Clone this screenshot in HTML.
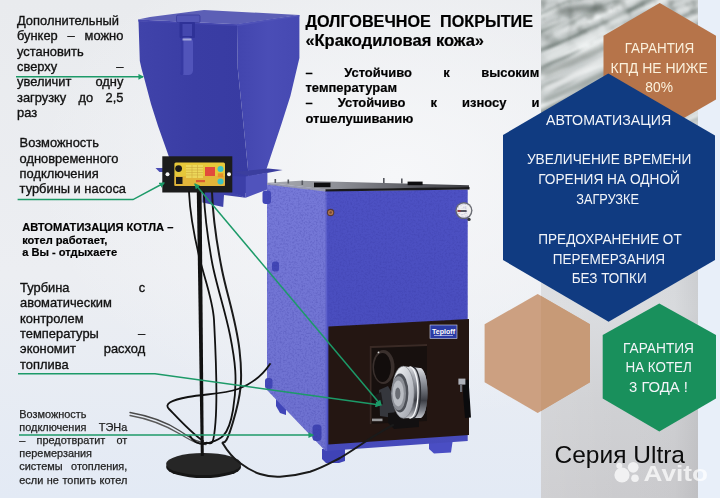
<!DOCTYPE html>
<html><head><meta charset="utf-8">
<style>
html,body{margin:0;padding:0;background:#e9ecf1;}
body{width:720px;height:498px;overflow:hidden;font-family:"Liberation Sans",sans-serif;}
svg{display:block;font-family:"Liberation Sans",sans-serif;}
</style></head><body>
<svg width="720" height="498" viewBox="0 0 720 498">
<defs>
<linearGradient id="bg" x1="0" y1="0" x2="0" y2="1">
<stop offset="0" stop-color="#e9ebee"/><stop offset="0.55" stop-color="#eceef2"/><stop offset="1" stop-color="#e3eaf5"/>
</linearGradient>
<radialGradient id="bgc" cx="0.55" cy="0.35" r="0.5">
<stop offset="0" stop-color="#f6f7f9" stop-opacity="1"/><stop offset="1" stop-color="#f6f7f9" stop-opacity="0"/>
</radialGradient>
<linearGradient id="bandh" x1="0" y1="0" x2="1" y2="0"><stop offset="0" stop-color="#fff" stop-opacity="0.1"/><stop offset="0.5" stop-color="#fff" stop-opacity="0"/><stop offset="0.85" stop-color="#000" stop-opacity="0.01"/><stop offset="1" stop-color="#000" stop-opacity="0.06"/></linearGradient>
<linearGradient id="band" x1="0" y1="0" x2="0" y2="1">
<stop offset="0" stop-color="#c0c4c6"/><stop offset="0.28" stop-color="#d2d4d8"/><stop offset="0.62" stop-color="#dadcdf"/><stop offset="0.8" stop-color="#d0d1d4"/><stop offset="1" stop-color="#cbcbce"/>
</linearGradient>
<filter id="noise" x="0" y="0" width="100%" height="100%" color-interpolation-filters="sRGB">
<feTurbulence type="fractalNoise" baseFrequency="0.014 0.13" numOctaves="3" seed="11" result="t"/>
<feColorMatrix in="t" type="matrix" values="0 0 0 0 0.36  0 0 0 0 0.41  0 0 0 0 0.39  2.1 0 0 0 -1.02" result="d"/>
<feColorMatrix in="t" type="matrix" values="0 0 0 0 0.97  0 0 0 0 0.98  0 0 0 0 0.98  0 2.4 0 0 -1.1" result="w"/>
<feMerge result="m"><feMergeNode in="d"/><feMergeNode in="w"/></feMerge><feGaussianBlur in="m" stdDeviation="1.0"/>
</filter>
<filter id="noise2" x="0" y="0" width="100%" height="100%" color-interpolation-filters="sRGB">
<feTurbulence type="fractalNoise" baseFrequency="0.09 0.09" numOctaves="2" seed="3" result="t"/>
<feColorMatrix in="t" type="matrix" values="0 0 0 0 0.30  0 0 0 0 0.34  0 0 0 0 0.32  2.4 0 0 0 -1.2" result="q"/><feGaussianBlur in="q" stdDeviation="0.8"/>
</filter>
<filter id="speck" x="0" y="0" width="100%" height="100%" color-interpolation-filters="sRGB">
<feTurbulence type="fractalNoise" baseFrequency="0.55" numOctaves="2" seed="5" result="t"/>
<feColorMatrix in="t" type="matrix" values="0 0 0 0 0.2  0 0 0 0 0.2  0 0 0 0 0.6  0 0 2.0 0 -0.85" result="c"/>
<feComposite in="c" in2="SourceGraphic" operator="in"/>
</filter>
<filter id="b1"><feGaussianBlur stdDeviation="1.2"/></filter>
<filter id="b2"><feGaussianBlur stdDeviation="2.5"/></filter>
<linearGradient id="ft" x1="0" y1="0" x2="0" y2="1"><stop offset="0" stop-color="#fff"/><stop offset="0.4" stop-color="#fff"/><stop offset="1" stop-color="#000"/></linearGradient><mask id="fadeTop"><rect x="541" y="0" width="157" height="60" fill="url(#ft)"/></mask>
<clipPath id="photoclip"><rect x="541" y="0" width="157" height="140"/></clipPath>
<marker id="ah" viewBox="0 0 10 10" refX="8" refY="5" markerWidth="3.8" markerHeight="3.8" orient="auto-start-reverse"><path d="M0,0 L10,5 L0,10 z" fill="#1c9a68"/></marker>
</defs>
<!-- BACKGROUND -->
<g id="background">
<rect width="720" height="498" fill="url(#bg)"/>
<rect width="720" height="498" fill="url(#bgc)"/>
<rect x="698" y="0" width="22" height="498" fill="#e8eff9"/>
<rect x="541" y="0" width="157" height="498" fill="url(#band)"/>
<rect x="541" y="0" width="157" height="498" fill="url(#bandh)"/>
</g>
<!-- PHOTO -->
<g id="photo" clip-path="url(#photoclip)">
<rect x="541" y="0" width="157" height="140" fill="#c9cece"/>
<g transform="rotate(-24 600 60)"><rect x="470" y="-90" width="320" height="320" filter="url(#noise)"/></g>
<rect x="541" y="0" width="157" height="60" filter="url(#noise2)" opacity="0.55" mask="url(#fadeTop)"/>
<g filter="url(#b2)" fill="none" stroke-linecap="round">
<path d="M545,75 C570,62 600,50 640,30" stroke="#6d7672" stroke-width="4" opacity="0.7"/>
<path d="M545,100 C575,88 600,78 625,60" stroke="#78817d" stroke-width="4" opacity="0.7"/>
<path d="M548,58 C575,45 595,35 625,15" stroke="#eef1f1" stroke-width="5" opacity="0.8"/>
<path d="M545,88 C570,78 595,66 615,52" stroke="#f2f4f4" stroke-width="4" opacity="0.8"/>
<path d="M560,12 C575,8 590,6 605,10" stroke="#565e5a" stroke-width="5" opacity="0.7"/>
</g>
</g>
<!-- HEXAGONS -->
<g id="hexes">
<polygon points="659.7,3 716,35.7 716,99.5 659.7,132 603.5,99.5 603.5,35.7" fill="#b6744a"/>
<polygon points="608.3,73.5 715,135.5 715,260 608.6,321.7 503,260 503,135" fill="#103b81"/>
<polygon points="537.7,294 590,324.3 590,382.3 537.7,413 484.6,382.3 484.6,324.3" fill="#cca081"/>
<polygon points="541,296 590,324.3 590,382.3 541,411" fill="#c79a77"/>
<polygon points="659.3,303.5 716,335 716,398.4 659.3,431.5 602.7,398.4 602.7,335" fill="#19905c"/>
</g>
<!-- HOPPER -->
<g id="hopper">
<defs>
<linearGradient id="hf" x1="0" y1="0" x2="1" y2="0"><stop offset="0" stop-color="#4043aa"/><stop offset="0.5" stop-color="#3a3da4"/><stop offset="1" stop-color="#383ba2"/></linearGradient>
<linearGradient id="hr" x1="0" y1="0" x2="1" y2="0"><stop offset="0" stop-color="#4245ae"/><stop offset="0.5" stop-color="#4a4db6"/><stop offset="1" stop-color="#4649b2"/></linearGradient>
</defs>
<!-- right face -->
<polygon points="237,24 299.4,15 299.4,58 290.4,96 281.4,124.3 266.5,169 267,172 248.5,174 237.7,68" fill="url(#hr)"/>
<!-- front face -->
<polygon points="138.5,21 237,24.5 237.7,68 248.5,174 246,193 232,193 232,157 169,157 158,126 151,104 144,77.5 141.6,69 139.8,61" fill="url(#hf)"/>
<!-- lid -->
<polygon points="138,19.5 150,17 204,10 299.4,15 237,24.2" fill="#5c5fb6"/>
<polygon points="138,19.5 237,24.2 237,26 138.3,21.5" fill="#4547ae"/>
<polygon points="237,24.2 299.4,15 299.4,16.6 237,26" fill="#5053b8"/>
<!-- latch -->
<rect x="176.5" y="15" width="23.5" height="7.6" rx="1.5" fill="#5255b6" stroke="#33369a" stroke-width="0.7"/>
<rect x="179.5" y="22" width="15.5" height="16" rx="1" fill="#2f3298"/>
<rect x="182.5" y="24" width="9.5" height="12" fill="#4447ae"/>
<rect x="180.2" y="37.5" width="12.8" height="37.5" rx="4.5" fill="#5154ba"/>
<rect x="180.2" y="37.5" width="3.2" height="37.5" rx="1.6" fill="#3639a2"/>
<rect x="182.5" y="38.5" width="9" height="2" fill="#e8e9f4" opacity="0.55"/>
<!-- flange -->
<polygon points="232,172 250,176.3 282.6,170 268,168.6" fill="#3b3e9e"/>
<polygon points="155.5,168 163,168 163,172 159.5,172" fill="#4a4db4"/>
<!-- lower box -->
<polygon points="232,176 245.7,176.5 245.7,197.7 232,193" fill="#3c3fa8"/>
<polygon points="245.7,176.5 267.4,172.5 267.4,189.4 245.7,197.7" fill="#5053bc"/>
<!-- spout below panel -->
<polygon points="202.4,192 232,192 245.7,197.7 224,195 223.2,206.9 202.4,202.4" fill="#4043aa"/>
</g>
<g id="panel">
<rect x="162.3" y="156.3" width="70" height="36.2" fill="#1c1c1c"/>
<rect x="174.4" y="162.6" width="50.6" height="23.4" rx="1.5" fill="#e6c83a"/>
<rect x="174.4" y="176" width="50.6" height="10" fill="#e0a93a" opacity="0.6"/>
<rect x="186" y="165" width="17" height="13" fill="#ecd95e" opacity="0.9"/>
<g stroke="#b98a2a" stroke-width="0.5" opacity="0.7"><line x1="186" y1="167.5" x2="203" y2="167.5"/><line x1="186" y1="170" x2="203" y2="170"/><line x1="186" y1="172.5" x2="203" y2="172.5"/><line x1="186" y1="175" x2="203" y2="175"/><line x1="192" y1="165" x2="192" y2="178"/><line x1="197.5" y1="165" x2="197.5" y2="178"/></g>
<rect x="196" y="180" width="9" height="2.2" fill="#d8452f" opacity="0.8"/>
<rect x="205" y="167" width="10" height="9" fill="#e24a3c"/>
<circle cx="220.5" cy="169" r="3" fill="#3cc4c4"/>
<circle cx="220.5" cy="181.5" r="3" fill="#3cc4c4"/>
<rect x="217.8" y="173.3" width="5.4" height="4" fill="#e8902a"/>
<circle cx="178.6" cy="168.6" r="3.4" fill="#1a1a1a"/>
<rect x="176" y="177" width="6.5" height="7" fill="#1a1a1a"/>
<circle cx="167.5" cy="174.3" r="2" fill="#f2f2f2"/>
<circle cx="229" cy="174.3" r="2" fill="#f2f2f2"/>
</g>
<!-- BOILER -->
<g id="boiler">
<defs>
<linearGradient id="lf" x1="0" y1="0" x2="0" y2="1"><stop offset="0" stop-color="#7679d8"/><stop offset="1" stop-color="#6d70cf"/></linearGradient>
<linearGradient id="ff" x1="0" y1="0" x2="0" y2="1"><stop offset="0" stop-color="#4d51c3"/><stop offset="1" stop-color="#464aba"/></linearGradient>
<linearGradient id="fan" x1="0" y1="0" x2="1" y2="1"><stop offset="0" stop-color="#f0f2f5"/><stop offset="0.45" stop-color="#a9adb6"/><stop offset="0.7" stop-color="#5b5e66"/><stop offset="1" stop-color="#c5c8ce"/></linearGradient>
<linearGradient id="topg" x1="0" y1="0" x2="1" y2="0"><stop offset="0" stop-color="#a9abb2"/><stop offset="0.35" stop-color="#8d8f96"/><stop offset="0.7" stop-color="#5c5d64"/><stop offset="1" stop-color="#3c3d42"/></linearGradient>
<linearGradient id="fanbody" x1="0" y1="0" x2="0" y2="1"><stop offset="0" stop-color="#dcdee2"/><stop offset="0.2" stop-color="#a4a7af"/><stop offset="0.45" stop-color="#6a6d75"/><stop offset="0.65" stop-color="#3c3e45"/><stop offset="0.85" stop-color="#7f828a"/><stop offset="1" stop-color="#c4c6cc"/></linearGradient>
<linearGradient id="fanrim" x1="0" y1="0" x2="1" y2="1"><stop offset="0" stop-color="#fafbfc"/><stop offset="0.5" stop-color="#c9ccd2"/><stop offset="1" stop-color="#9a9da6"/></linearGradient>
<radialGradient id="fanin" cx="0.5" cy="0.5" r="0.5"><stop offset="0" stop-color="#8e8f94"/><stop offset="0.6" stop-color="#c9cbd0"/><stop offset="1" stop-color="#eceef0"/></radialGradient>
</defs>
<!-- feet -->
<polygon points="322,449 345,447 345,461 339,463 326,463 322,459" fill="#3f43b6"/>
<polygon points="429,440 453,438.5 451,452.5 434,453.5 429,449" fill="#4a4ec4"/>
<polygon points="276,398 286,408 286,415 280,413 276,406" fill="#4045b8"/>
<!-- left face -->
<polygon points="267,184 325.4,191 325.4,451 267,390" fill="url(#lf)"/>
<!-- front face -->
<polygon points="325.4,191 467.7,189.5 467.7,441 325.4,451" fill="url(#ff)"/>
<polygon points="325.4,191 327.2,191 327.2,451 325.4,451" fill="#5d60cc"/>
<!-- top plate -->
<polygon points="267,182.8 300,180.8 469,185.2 469,187.4 325.4,189.4" fill="url(#topg)"/>
<polygon points="267,182.8 325.4,189.2 325.4,191.6 267,184.8" fill="#9a9cb0"/>
<polygon points="325.4,189.2 469.5,187 469.5,189.6 325.4,191.6" fill="#19191b"/>
<rect x="314" y="182.6" width="16.5" height="4.6" fill="#0e0e10"/>
<rect x="407.6" y="181.6" width="15" height="3.6" fill="#0e0e10"/>
<g fill="#55575e"><rect x="274.5" y="179" width="1.6" height="4"/><rect x="287.5" y="179.5" width="1.6" height="4"/><rect x="301.5" y="180.5" width="1.6" height="4.5"/><rect x="383" y="178" width="1.6" height="5"/><rect x="401" y="178.5" width="1.6" height="5"/></g>
<!-- ports on left face -->
<rect x="262.5" y="190.5" width="8.5" height="13.5" rx="3" fill="#4247b6"/>
<rect x="272" y="261.5" width="7" height="10" rx="2.5" fill="#4247b6"/>
<rect x="265" y="378" width="7.5" height="11" rx="3" fill="#4247b6"/>
<rect x="312.5" y="424.5" width="9" height="16.5" rx="3.5" fill="#3f44b2"/>
<circle cx="330.6" cy="212.5" r="3.7" fill="#5a3a2c"/><circle cx="330.6" cy="212.5" r="2.6" fill="#b5784a"/><circle cx="330.6" cy="212.5" r="1.2" fill="#7a4a30"/>
<!-- black panel -->
<polygon points="328.4,326.6 469,319 469,435 328.4,444.5" fill="#241612"/>
<polygon points="369.7,346 427,344 427,421 369.7,424" fill="#17100e"/>
<polygon points="369.7,346 427,344 427,346 371.5,348 371.5,424 369.7,424" fill="#3a2a25"/>
<!-- logo -->
<rect x="430" y="325" width="27" height="13.5" fill="#2b3ba4" stroke="#cfd6f0" stroke-width="0.6"/>
<text x="443.5" y="333.5" font-size="6.5" font-weight="bold" fill="#ffffff" text-anchor="middle" textLength="23" lengthAdjust="spacingAndGlyphs">Teploff</text>
<rect x="434" y="335" width="19" height="1" fill="#cfd6f0" opacity="0.7"/>
<!-- fan -->
<ellipse cx="383.5" cy="367" rx="11" ry="17" fill="#3a302d"/>
<ellipse cx="382.5" cy="367.5" rx="8.5" ry="14.5" fill="#120d0c"/>
<circle cx="378.5" cy="352.4" r="0.9" fill="#ddd"/>
<polygon points="379,390 388,386 396,400 394,418 380,416" fill="#35373d"/>
<polygon points="374,396 381,392 383,404 376,408" fill="#1c1a1b"/>
<rect x="372" y="418.6" width="10.5" height="2.6" fill="#9a9a9c"/>
<polygon points="388,413 419,410 419,427 394,429 388,423" fill="#121011"/>
<path d="M403,366.2 L420,368 A7.5,25 0 0 1 420,418 L403,418.2 Z" fill="url(#fanbody)"/>
<ellipse cx="420" cy="393" rx="7.5" ry="25" fill="url(#fanbody)"/>
<path d="M412.5,367 A8,25.6 0 0 1 412.5,418.2" fill="none" stroke="#2b2d33" stroke-width="1.3"/>
<path d="M409.5,366.6 A8.5,25.8 0 0 1 409.5,418.2" fill="none" stroke="#f5f6f8" stroke-width="1.4"/>
<ellipse cx="403.2" cy="392.2" rx="11" ry="26" fill="url(#fanrim)" stroke="#777a82" stroke-width="0.6"/>
<ellipse cx="400" cy="393" rx="8.4" ry="19.5" fill="#4d5057"/>
<ellipse cx="398.6" cy="393.2" rx="7.4" ry="17" fill="#8c8f96"/>
<ellipse cx="398.2" cy="393.4" rx="5.6" ry="13" fill="#b9bcc2"/>
<ellipse cx="397.8" cy="393.6" rx="2.6" ry="6" fill="#6a6d74"/>
<!-- latch -->
<polygon points="462.5,381 468.5,379.5 471,417.5 465,418 463.3,398" fill="#0b0b0d"/>
<rect x="458.4" y="378.6" width="7" height="6" fill="#aeb2ba"/>
<rect x="460" y="384" width="2.2" height="8" fill="#6d7078"/>
<!-- gauge -->
<circle cx="463.9" cy="210.6" r="8.6" fill="#6b6d74"/>
<circle cx="463.9" cy="210.6" r="7.2" fill="#f0f0f0"/>
<line x1="457.6" y1="211" x2="466.6" y2="211" stroke="#2a2a2a" stroke-width="1.5"/>
<line x1="457.6" y1="211" x2="460.6" y2="211" stroke="#a33" stroke-width="1.5"/>
<circle cx="469" cy="219.4" r="1.7" fill="#33353a"/>
<!-- texture -->
<polygon points="267,184 325.4,191 325.4,451 267,390" filter="url(#speck)" opacity="0.3"/>
<polygon points="325.4,191 467.7,189.5 467.7,320 328.4,327" filter="url(#speck)" opacity="0.3"/>
</g>
<!-- STAND -->
<g id="stand" fill="none" stroke-linecap="round">
<!-- base -->
<ellipse cx="203.6" cy="467" rx="37.5" ry="11" fill="#161616"/>
<ellipse cx="203.6" cy="464" rx="37.5" ry="11" fill="#262626"/>
<!-- gray cables -->
<path d="M130,412.5 C150,416 165,421 180,431 S198,442 206,443" stroke="#4a4a4a" stroke-width="1.3"/>
<path d="M130,415.5 C150,419 165,425 180,434 S198,444 206,444.5" stroke="#5a5a5a" stroke-width="1.3"/>
<!-- pole -->
<polygon points="196.8,192 201.6,192 203.8,456 200.8,456" fill="#111" stroke="none"/>
<!-- cables -->
<path d="M189,192 C190,215 194,235 199,256 S213,300 214,320 S218,390 215.5,422 S210,440 205,443" stroke="#111" stroke-width="1.8"/>
<path d="M203.7,192 C205,220 208,240 212,262 S225,310 230,335 S238,380 233,410 S218,440 208,443 S192,440 190,436" stroke="#111" stroke-width="1.8"/>
<path d="M212,192 C213,220 217,245 222,270 S236,320 239.5,350 S241,395 233,422 S224,440 222.5,443 C228,452 234,459 240,463 C248,469 254,472 260,474 C268,476.5 274,477 280,476.7 C291,476 300,474.5 310,471.7 C322,468 332,462 340,458 C352,451 363,443 373,436.7 C381,432 387,428 393,425" stroke="#1a1a1a" stroke-width="2"/>
<path d="M270,364 C262,376 252,384 238,389 S205,394 188,397 S164,404 169,409 S190,432 203,441" stroke="#111" stroke-width="1.8"/>
</g>
<!-- LINES -->
<g id="lines" fill="none" stroke="#1c9a68" stroke-width="1.5">
<path d="M16,76.8 L143,76.8" marker-end="url(#ah)"/>
<path d="M17.6,199.6 L133,199.6 L164,183" marker-end="url(#ah)"/>
<path d="M195,184 L381,405" marker-start="url(#ah)" marker-end="url(#ah)"/>
<path d="M18,373.7 L155,373.7 L380,405" marker-end="url(#ah)"/>
<path d="M19,435.1 L313,435.1" marker-end="url(#ah)"/>
</g>
<!-- TEXT -->
<g id="text" opacity="0.999">
<text x="17.0" y="25.0" font-size="13.33" stroke="#111111" stroke-width="0.35" fill="#111111" textLength="102.0" lengthAdjust="spacingAndGlyphs">Дополнительный</text>
<text x="17.0" y="40.3" font-size="13.33" stroke="#111111" stroke-width="0.35" fill="#111111" textLength="40.7" lengthAdjust="spacingAndGlyphs">бункер</text>
<text x="67.6" y="40.3" font-size="13.33" stroke="#111111" stroke-width="0.35" fill="#111111" textLength="7.2" lengthAdjust="spacingAndGlyphs">–</text>
<text x="84.6" y="40.3" font-size="13.33" stroke="#111111" stroke-width="0.35" fill="#111111" textLength="38.8" lengthAdjust="spacingAndGlyphs">можно</text>
<text x="17.0" y="55.7" font-size="13.33" stroke="#111111" stroke-width="0.35" fill="#111111" textLength="66.6" lengthAdjust="spacingAndGlyphs">установить</text>
<text x="17.0" y="71.0" font-size="13.33" stroke="#111111" stroke-width="0.35" fill="#111111" textLength="40.2" lengthAdjust="spacingAndGlyphs">сверху</text>
<text x="116.2" y="71.0" font-size="13.33" stroke="#111111" stroke-width="0.35" fill="#111111" textLength="7.2" lengthAdjust="spacingAndGlyphs">–</text>
<text x="17.0" y="86.3" font-size="13.33" stroke="#111111" stroke-width="0.35" fill="#111111" textLength="54.4" lengthAdjust="spacingAndGlyphs">увеличит</text>
<text x="95.5" y="86.3" font-size="13.33" stroke="#111111" stroke-width="0.35" fill="#111111" textLength="27.9" lengthAdjust="spacingAndGlyphs">одну</text>
<text x="17.0" y="101.7" font-size="13.33" stroke="#111111" stroke-width="0.35" fill="#111111" textLength="49.3" lengthAdjust="spacingAndGlyphs">загрузку</text>
<text x="78.6" y="101.7" font-size="13.33" stroke="#111111" stroke-width="0.35" fill="#111111" textLength="14.7" lengthAdjust="spacingAndGlyphs">до</text>
<text x="105.5" y="101.7" font-size="13.33" stroke="#111111" stroke-width="0.35" fill="#111111" textLength="17.9" lengthAdjust="spacingAndGlyphs">2,5</text>
<text x="17.0" y="117.0" font-size="13.33" stroke="#111111" stroke-width="0.35" fill="#111111" textLength="20.1" lengthAdjust="spacingAndGlyphs">раз</text>
<text x="19.6" y="147.2" font-size="13.33" stroke="#111111" stroke-width="0.35" fill="#111111" textLength="79.3" lengthAdjust="spacingAndGlyphs">Возможность</text>
<text x="19.6" y="162.6" font-size="13.33" stroke="#111111" stroke-width="0.35" fill="#111111" textLength="98.8" lengthAdjust="spacingAndGlyphs">одновременного</text>
<text x="19.6" y="177.9" font-size="13.33" stroke="#111111" stroke-width="0.35" fill="#111111" textLength="79.2" lengthAdjust="spacingAndGlyphs">подключения</text>
<text x="19.6" y="193.3" font-size="13.33" stroke="#111111" stroke-width="0.35" fill="#111111" textLength="106.4" lengthAdjust="spacingAndGlyphs">турбины и насоса</text>
<text x="22.2" y="231.0" font-size="11.1" font-weight="bold" stroke="#000" stroke-width="0.2" fill="#000" textLength="151.2" lengthAdjust="spacingAndGlyphs">АВТОМАТИЗАЦИЯ КОТЛА –</text>
<text x="22.2" y="243.7" font-size="11.1" font-weight="bold" stroke="#000" stroke-width="0.2" fill="#000" textLength="85.2" lengthAdjust="spacingAndGlyphs">котел работает,</text>
<text x="22.2" y="256.3" font-size="11.1" font-weight="bold" stroke="#000" stroke-width="0.2" fill="#000" textLength="94.9" lengthAdjust="spacingAndGlyphs">а Вы - отдыхаете</text>
<text x="20.1" y="291.9" font-size="13.33" stroke="#111111" stroke-width="0.35" fill="#111111" textLength="49.4" lengthAdjust="spacingAndGlyphs">Турбина</text>
<text x="138.8" y="291.9" font-size="13.33" stroke="#111111" stroke-width="0.35" fill="#111111" textLength="6.4" lengthAdjust="spacingAndGlyphs">с</text>
<text x="20.1" y="307.2" font-size="13.33" stroke="#111111" stroke-width="0.35" fill="#111111" textLength="91.8" lengthAdjust="spacingAndGlyphs">авоматическим</text>
<text x="20.1" y="322.6" font-size="13.33" stroke="#111111" stroke-width="0.35" fill="#111111" textLength="63.5" lengthAdjust="spacingAndGlyphs">контролем</text>
<text x="20.1" y="337.9" font-size="13.33" stroke="#111111" stroke-width="0.35" fill="#111111" textLength="78.7" lengthAdjust="spacingAndGlyphs">температуры</text>
<text x="138.0" y="337.9" font-size="13.33" stroke="#111111" stroke-width="0.35" fill="#111111" textLength="7.2" lengthAdjust="spacingAndGlyphs">–</text>
<text x="20.1" y="353.2" font-size="13.33" stroke="#111111" stroke-width="0.35" fill="#111111" textLength="55.7" lengthAdjust="spacingAndGlyphs">экономит</text>
<text x="103.8" y="353.2" font-size="13.33" stroke="#111111" stroke-width="0.35" fill="#111111" textLength="41.4" lengthAdjust="spacingAndGlyphs">расход</text>
<text x="20.1" y="368.5" font-size="13.33" stroke="#111111" stroke-width="0.35" fill="#111111" textLength="48.5" lengthAdjust="spacingAndGlyphs">топлива</text>
<text x="19.3" y="417.5" font-size="11" stroke="#222" stroke-width="0.25" fill="#222" textLength="67.2" lengthAdjust="spacingAndGlyphs">Возможность</text>
<text x="19.3" y="430.7" font-size="11" stroke="#222" stroke-width="0.25" fill="#222" textLength="67.1" lengthAdjust="spacingAndGlyphs">подключения</text>
<text x="98.8" y="430.7" font-size="11" stroke="#222" stroke-width="0.25" fill="#222" textLength="28.5" lengthAdjust="spacingAndGlyphs">ТЭНа</text>
<text x="19.3" y="443.9" font-size="11" stroke="#222" stroke-width="0.25" fill="#222" textLength="6.1" lengthAdjust="spacingAndGlyphs">–</text>
<text x="36.5" y="443.9" font-size="11" stroke="#222" stroke-width="0.25" fill="#222" textLength="68.8" lengthAdjust="spacingAndGlyphs">предотвратит</text>
<text x="116.5" y="443.9" font-size="11" stroke="#222" stroke-width="0.25" fill="#222" textLength="10.8" lengthAdjust="spacingAndGlyphs">от</text>
<text x="19.3" y="457.1" font-size="11" stroke="#222" stroke-width="0.25" fill="#222" textLength="72.7" lengthAdjust="spacingAndGlyphs">перемерзания</text>
<text x="19.3" y="470.3" font-size="11" stroke="#222" stroke-width="0.25" fill="#222" textLength="43.3" lengthAdjust="spacingAndGlyphs">системы</text>
<text x="71.1" y="470.3" font-size="11" stroke="#222" stroke-width="0.25" fill="#222" textLength="56.2" lengthAdjust="spacingAndGlyphs">отопления,</text>
<text x="19.3" y="483.5" font-size="11" stroke="#222" stroke-width="0.25" fill="#222" textLength="24.0" lengthAdjust="spacingAndGlyphs">если</text>
<text x="46.8" y="483.5" font-size="11" stroke="#222" stroke-width="0.25" fill="#222" textLength="12.1" lengthAdjust="spacingAndGlyphs">не</text>
<text x="62.5" y="483.5" font-size="11" stroke="#222" stroke-width="0.25" fill="#222" textLength="33.6" lengthAdjust="spacingAndGlyphs">топить</text>
<text x="99.6" y="483.5" font-size="11" stroke="#222" stroke-width="0.25" fill="#222" textLength="27.7" lengthAdjust="spacingAndGlyphs">котел</text>
<text x="305.4" y="27.2" font-size="16" font-weight="bold" stroke="#000" stroke-width="0.2" fill="#000" textLength="125.4" lengthAdjust="spacingAndGlyphs">ДОЛГОВЕЧНОЕ</text>
<text x="440.1" y="27.2" font-size="16" font-weight="bold" stroke="#000" stroke-width="0.2" fill="#000" textLength="92.9" lengthAdjust="spacingAndGlyphs">ПОКРЫТИЕ</text>
<text x="305.4" y="46.2" font-size="16" font-weight="bold" stroke="#000" stroke-width="0.2" fill="#000" textLength="178.6" lengthAdjust="spacingAndGlyphs">«Кракодиловая кожа»</text>
<text x="305.5" y="77.0" font-size="13.33" font-weight="bold" stroke="#000" stroke-width="0.2" fill="#000" textLength="7.2" lengthAdjust="spacingAndGlyphs">–</text>
<text x="344.2" y="77.0" font-size="13.33" font-weight="bold" stroke="#000" stroke-width="0.2" fill="#000" textLength="67.7" lengthAdjust="spacingAndGlyphs">Устойчиво</text>
<text x="443.3" y="77.0" font-size="13.33" font-weight="bold" stroke="#000" stroke-width="0.2" fill="#000" textLength="6.5" lengthAdjust="spacingAndGlyphs">к</text>
<text x="481.2" y="77.0" font-size="13.33" font-weight="bold" stroke="#000" stroke-width="0.2" fill="#000" textLength="58.2" lengthAdjust="spacingAndGlyphs">высоким</text>
<text x="305.5" y="92.2" font-size="13.33" font-weight="bold" stroke="#000" stroke-width="0.2" fill="#000" textLength="91.5" lengthAdjust="spacingAndGlyphs">температурам</text>
<text x="305.5" y="107.4" font-size="13.33" font-weight="bold" stroke="#000" stroke-width="0.2" fill="#000" textLength="7.2" lengthAdjust="spacingAndGlyphs">–</text>
<text x="337.7" y="107.4" font-size="13.33" font-weight="bold" stroke="#000" stroke-width="0.2" fill="#000" textLength="67.7" lengthAdjust="spacingAndGlyphs">Устойчиво</text>
<text x="430.5" y="107.4" font-size="13.33" font-weight="bold" stroke="#000" stroke-width="0.2" fill="#000" textLength="6.5" lengthAdjust="spacingAndGlyphs">к</text>
<text x="462.0" y="107.4" font-size="13.33" font-weight="bold" stroke="#000" stroke-width="0.2" fill="#000" textLength="44.4" lengthAdjust="spacingAndGlyphs">износу</text>
<text x="531.4" y="107.4" font-size="13.33" font-weight="bold" stroke="#000" stroke-width="0.2" fill="#000" textLength="8.0" lengthAdjust="spacingAndGlyphs">и</text>
<text x="305.5" y="122.6" font-size="13.33" font-weight="bold" stroke="#000" stroke-width="0.2" fill="#000" textLength="107.8" lengthAdjust="spacingAndGlyphs">отшелушиванию</text>
<text x="624.7" y="52.7" font-size="15.2" fill="#fbf1dc" textLength="69.5" lengthAdjust="spacingAndGlyphs">ГАРАНТИЯ</text>
<text x="610.6" y="72.7" font-size="15.2" fill="#fbf1dc" textLength="97.2" lengthAdjust="spacingAndGlyphs">КПД НЕ НИЖЕ</text>
<text x="645.3" y="91.8" font-size="15.2" fill="#fbf1dc" textLength="27.6" lengthAdjust="spacingAndGlyphs">80%</text>
<text x="546.1" y="124.8" font-size="15.2" fill="#f3f5f9" textLength="125.1" lengthAdjust="spacingAndGlyphs">АВТОМАТИЗАЦИЯ</text>
<text x="526.9" y="164.4" font-size="15.2" fill="#f3f5f9" textLength="164.4" lengthAdjust="spacingAndGlyphs">УВЕЛИЧЕНИЕ ВРЕМЕНИ</text>
<text x="538.2" y="184.2" font-size="15.2" fill="#f3f5f9" textLength="141.7" lengthAdjust="spacingAndGlyphs">ГОРЕНИЯ НА ОДНОЙ</text>
<text x="576.2" y="204.0" font-size="15.2" fill="#f3f5f9" textLength="62.8" lengthAdjust="spacingAndGlyphs">ЗАГРУЗКЕ</text>
<text x="538.3" y="244.0" font-size="15.2" fill="#f3f5f9" textLength="143.4" lengthAdjust="spacingAndGlyphs">ПРЕДОХРАНЕНИЕ ОТ</text>
<text x="552.7" y="263.5" font-size="15.2" fill="#f3f5f9" textLength="112.3" lengthAdjust="spacingAndGlyphs">ПЕРЕМЕРЗАНИЯ</text>
<text x="571.7" y="283.3" font-size="15.2" fill="#f3f5f9" textLength="75.0" lengthAdjust="spacingAndGlyphs">БЕЗ ТОПКИ</text>
<text x="623.0" y="352.7" font-size="15.2" fill="#f3f5f9" textLength="71.0" lengthAdjust="spacingAndGlyphs">ГАРАНТИЯ</text>
<text x="625.5" y="372.0" font-size="15.2" fill="#f3f5f9" textLength="66.3" lengthAdjust="spacingAndGlyphs">НА КОТЕЛ</text>
<text x="629.0" y="391.5" font-size="15.2" fill="#f3f5f9" textLength="59.0" lengthAdjust="spacingAndGlyphs">3 ГОДА !</text>
<text x="554.5" y="463.0" font-size="23.7" fill="#0c0c0c" textLength="130.5" lengthAdjust="spacingAndGlyphs">Серия Ultra</text>
<g opacity="0.72" fill="#ffffff"><circle cx="622" cy="475" r="7.6"/><circle cx="633.2" cy="467.3" r="5.4"/><circle cx="619.3" cy="465.8" r="3"/><circle cx="635" cy="478.3" r="3.8"/><text x="643.5" y="480.5" font-size="21.5" font-weight="bold" textLength="64.5" lengthAdjust="spacingAndGlyphs">Avito</text></g>
</g>
</svg>
</body></html>
